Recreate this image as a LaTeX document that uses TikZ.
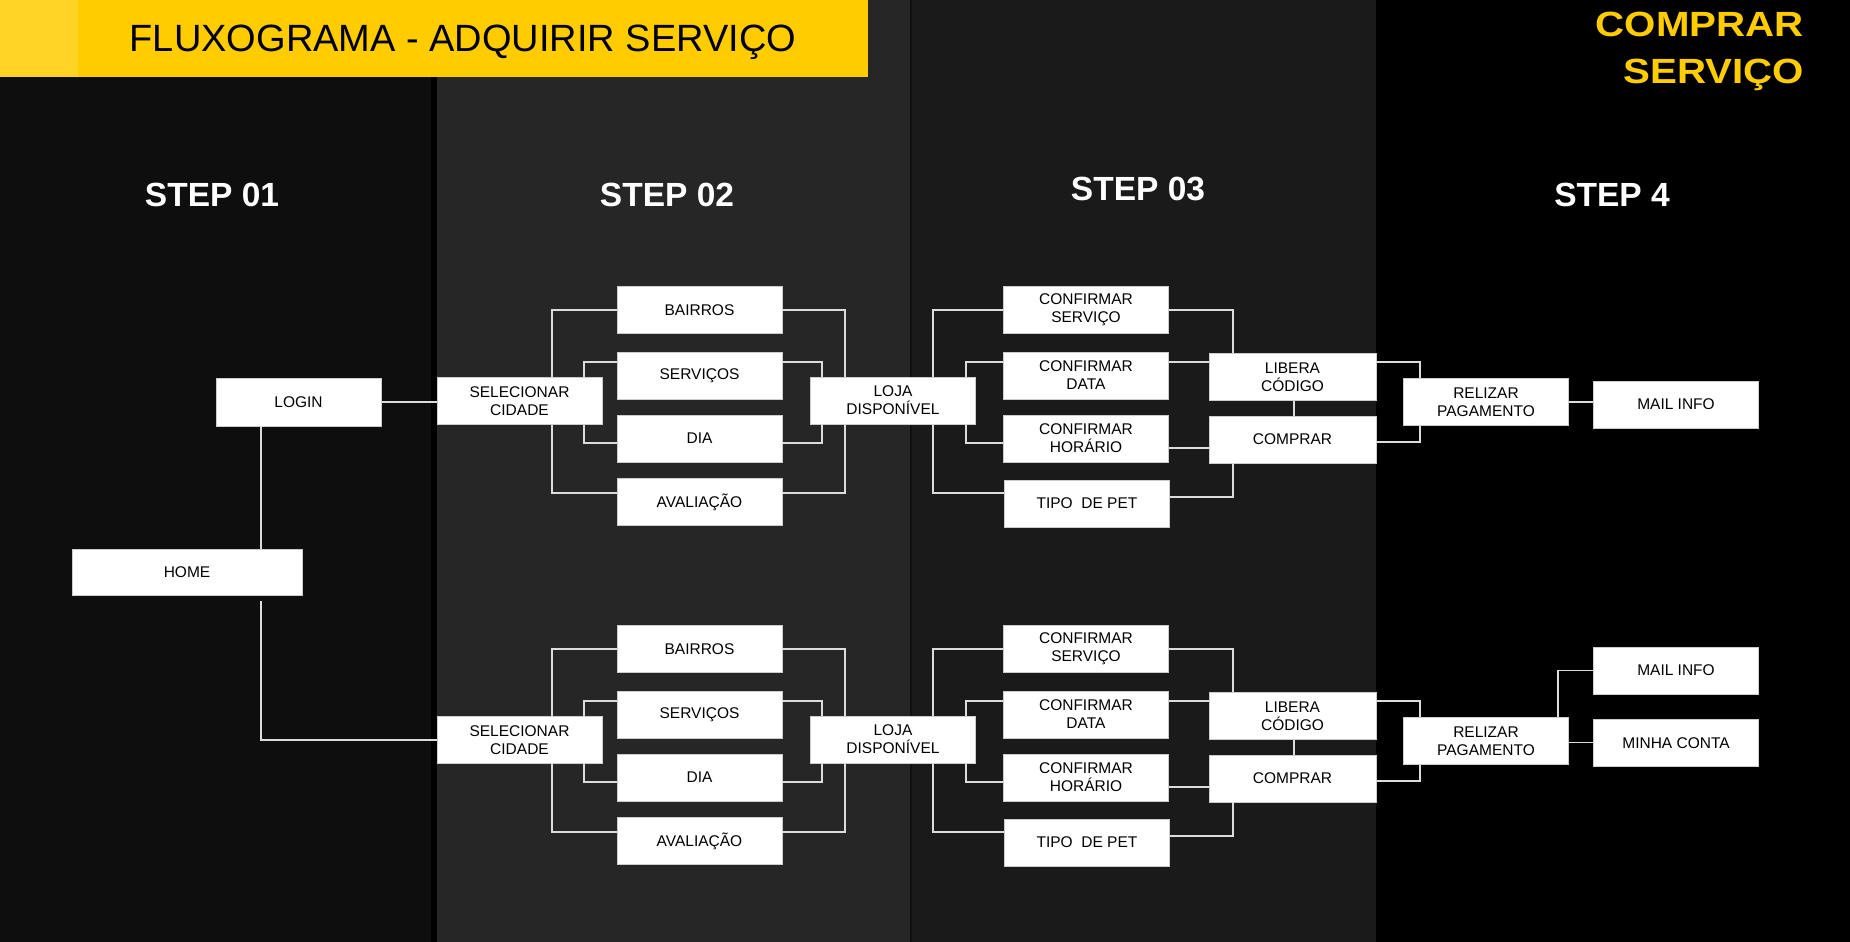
\documentclass[tikz,border=0pt]{standalone}
\usepackage{fontspec}
\setmainfont{Liberation Sans}
\usepackage{graphicx}
\definecolor{colA}{HTML}{0E0E0E}
\definecolor{colB}{HTML}{262626}
\definecolor{colC}{HTML}{1A1A1A}
\definecolor{colD}{HTML}{000000}
\definecolor{sepB}{HTML}{111111}
\definecolor{bannery}{HTML}{FFCC00}
\definecolor{ylight}{HTML}{FFD324}
\definecolor{linec}{HTML}{DCDCDC}
\begin{document}
\begin{tikzpicture}[x=1pt,y=-1pt,
  box/.style={rectangle, fill=white, draw=gray!40, line width=0.8pt, inner sep=0pt,
    minimum width=165pt, minimum height=47pt, align=center, text=black,
    font=\fontsize{15.5}{18}\selectfont},
  conn/.style={draw=linec, line width=1.8pt},
  stephead/.style={anchor=base, text=white, font=\fontsize{33.5}{40}\selectfont\bfseries},
  yellowtxt/.style={anchor=base east, text=bannery, inner sep=0pt, font=\fontsize{35}{42}\selectfont\bfseries}]
\useasboundingbox (0,0) rectangle (1850,942);
% column backgrounds
\fill[fill=colA] (0,0) rectangle (431,942);
\fill[fill=black] (431,0) rectangle (437,942);
\fill[fill=colB] (437,0) rectangle (910,942);
\fill[fill=sepB] (910,0) rectangle (912,942);
\fill[fill=colC] (912,0) rectangle (1376,942);
\fill[fill=colD] (1376,0) rectangle (1850,942);
% banner
\fill[fill=bannery] (0,0) rectangle (868,77);
\fill[fill=ylight] (0,0) rectangle (78,77);
\node[anchor=base, text=black, inner sep=0pt, font=\fontsize{38}{44}\selectfont] (title) at (463,52) {FLUXOGRAMA - ADQUIRIR SERVIÇO};
\node[yellowtxt] (cmp1) at (1804,37) {\scalebox{1.15}[1]{COMPRAR}};
\node[yellowtxt] (cmp2) at (1804,83) {\scalebox{1.15}[1]{SERVIÇO}};
% step headings
\node[stephead] (h1) at (212,206) {STEP 01};
\node[stephead] (h2) at (667,206) {STEP 02};
\node[stephead] (h3) at (1138,200) {STEP 03};
\node[stephead] (h4) at (1612,206) {STEP 4};
% step 1
\node[box, minimum height=48pt] (LOGIN) at (298.5,402) {LOGIN};
\node[box, minimum width=230pt, minimum height=46pt] (HOME) at (187,572) {HOME};
% groups for steps 2 and 3
\foreach \g/\o in {1/0,2/339}{
  \node[box] (SEL\g) at (519.5,{401+\o}) {SELECIONAR\\CIDADE};
  \node[box] (BAI\g) at (699.5,{310+\o}) {BAIRROS};
  \node[box] (SERV\g) at (699.5,{375.5+\o}) {SERVIÇOS};
  \node[box] (DIA\g) at (699.5,{438.5+\o}) {DIA};
  \node[box] (AVAL\g) at (699.5,{502+\o}) {AVALIAÇÃO};
  \node[box] (LOJA\g) at (893,{400.5+\o}) {LOJA\\DISPONÍVEL};
  \node[box] (CS\g) at (1086,{310+\o}) {CONFIRMAR\\SERVIÇO};
  \node[box] (CD\g) at (1086,{375.5+\o}) {CONFIRMAR\\DATA};
  \node[box] (CH\g) at (1086,{438.5+\o}) {CONFIRMAR\\HORÁRIO};
  \node[box] (TP\g) at (1087,{503.5+\o}) {TIPO~~DE PET};
  \node[box, minimum width=167pt] (LIB\g) at (1292.5,{377+\o}) {LIBERA\\CÓDIGO};
  \node[box, minimum width=167pt] (COMP\g) at (1292.5,{439.5+\o}) {COMPRAR};
  \node[box] (REL\g) at (1486,{402+\o}) {RELIZAR\\PAGAMENTO};
  % step 2 connectors
  \draw[conn] ([xshift=32.5pt]SEL\g.north) |- (BAI\g.west);
  \draw[conn] ([xshift=32.5pt]SEL\g.south) |- ([yshift=9pt]AVAL\g.west);
  \draw[conn] ([xshift=64.5pt]SEL\g.north) |- ([yshift=13.5pt]SERV\g.west);
  \draw[conn] ([xshift=64.5pt]SEL\g.south) |- ([yshift=-4.5pt]DIA\g.west);
  \draw[conn] (BAI\g.east) -| ([xshift=-48pt]LOJA\g.north);
  \draw[conn] ([yshift=13.5pt]SERV\g.east) -| ([xshift=-71pt]LOJA\g.north);
  \draw[conn] ([yshift=-4.5pt]DIA\g.east) -| ([xshift=-71pt]LOJA\g.south);
  \draw[conn] ([yshift=9pt]AVAL\g.east) -| ([xshift=-48pt]LOJA\g.south);
  % step 3 connectors
  \draw[conn] ([xshift=40pt]LOJA\g.north) |- (CS\g.west);
  \draw[conn] ([xshift=40pt]LOJA\g.south) |- ([yshift=10.5pt]TP\g.west);
  \draw[conn] ([xshift=73pt]LOJA\g.north) |- ([yshift=13.5pt]CD\g.west);
  \draw[conn] ([xshift=73pt]LOJA\g.south) |- ([yshift=-4.5pt]CH\g.west);
  \draw[conn] (CS\g.east) -| ([xshift=-59.5pt]LIB\g.north);
  \draw[conn] ([yshift=13.5pt]CD\g.east) -- ([yshift=13.5pt]CD\g.east -| LIB\g.west);
  \draw[conn] ([yshift=-9.5pt]CH\g.east) -- ([yshift=-9.5pt]CH\g.east -| COMP\g.west);
  \draw[conn] ([yshift=6.5pt]TP\g.east) -| ([xshift=-59.5pt]COMP\g.south);
  \draw[conn] ([xshift=1.5pt]LIB\g.south) -- ([xshift=1.5pt]COMP\g.north);
  \draw[conn] ([yshift=15pt]LIB\g.east) -| ([xshift=-66pt]REL\g.north);
  \draw[conn] ([yshift=-2.5pt]COMP\g.east) -| ([xshift=-66pt]REL\g.south);
}
% step 4 end boxes
\node[box] (MAIL1) at (1676,404.5) {MAIL INFO};
\node[box] (MAIL2) at (1676,670.5) {MAIL INFO};
\node[box] (MINHA) at (1676,743) {MINHA CONTA};
% step 1 connectors
\draw[conn] (LOGIN.east) -- (LOGIN.east -| SEL1.west);
\draw[conn] ([xshift=-37.5pt]LOGIN.south) -- ([xshift=-37.5pt]LOGIN.south |- HOME.north);
\draw[conn] ([xshift=74pt,yshift=-6pt]HOME.south) |- (SEL2.west);
% step 4 connectors
\draw[conn] (REL1.east) -- (REL1.east -| MAIL1.west);
\draw[conn] ([xshift=72pt]REL2.north) |- (MAIL2.west);
\draw[conn] ([yshift=-1.5pt]REL2.east) -- ([yshift=-1.5pt]REL2.east -| MINHA.west);
\end{tikzpicture}
\end{document}
